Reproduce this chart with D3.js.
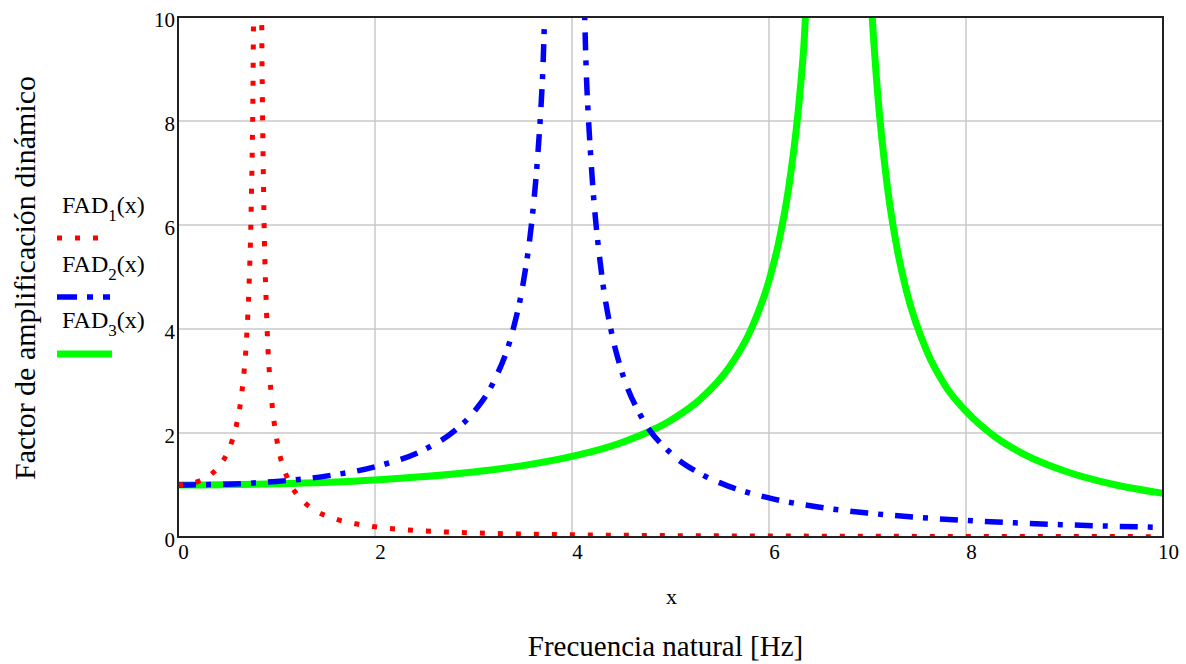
<!DOCTYPE html>
<html>
<head>
<meta charset="utf-8">
<script src="https://cdn.jsdelivr.net/npm/d3@7"></script>
<style>
	body { margin: 0; background: #fff; }
	text { font-family: "Liberation Serif", "Times New Roman", serif; fill: #000; }
</style>
</head>
<body>
<div id="chart"></div>
<script>
// values
const xTicks = [0, 2, 4, 6, 8, 10];
const yTicks = [0, 2, 4, 6, 8, 10];

const fad1X = [0, 0.1, 0.2, 0.3, 0.4, 0.5, 0.55, 0.6, 0.65, 0.7, 0.72, 0.74, 0.76, 0.77,
	0.845, 0.85, 0.87, 0.9, 0.95, 1.0, 1.1, 1.2, 1.3, 1.4, 1.6, 1.8, 2.0, 2.5, 3, 4, 5, 6, 7, 8, 10];
const fad1Y = [1.0, 1.016, 1.065, 1.159, 1.323, 1.616, 1.856, 2.216, 2.809, 3.95, 4.765, 6.05, 8.36, 10.38,
	11.33, 9.88, 6.51, 4.26, 2.663, 1.908, 1.184, 0.837, 0.635, 0.503, 0.345, 0.254, 0.196, 0.117, 0.079, 0.043, 0.027, 0.019, 0.014, 0.010, 0.007];

const fad2X = [0, 0.5, 1, 1.5, 2, 2.5, 2.8, 3.0, 3.2, 3.4, 3.5, 3.6, 3.65, 3.7, 3.75,
	4.1, 4.15, 4.2, 4.3, 4.4, 4.5, 4.7, 5.0, 5.3, 5.6, 6, 6.5, 7, 7.5, 8, 8.5, 9, 9.5, 10];
const fad2Y = [1.0, 1.016, 1.069, 1.171, 1.35, 1.68, 2.031, 2.397, 2.968, 3.976, 4.833, 6.216, 7.278, 8.8, 11.17,
	11.31, 8.69, 7.04, 5.07, 3.945, 3.214, 2.325, 1.616, 1.221, 0.97, 0.751, 0.576, 0.46, 0.379, 0.318, 0.272, 0.236, 0.207, 0.183];

const fad3X = [0, 1, 2, 3, 3.5, 4, 4.5, 5, 5.3, 5.6, 5.8, 6.0, 6.1, 6.2, 6.3, 6.35, 6.4,
	7.0, 7.05, 7.1, 7.2, 7.3, 7.4, 7.6, 7.8, 8.0, 8.3, 8.6, 9.0, 9.5, 10];
const fad3Y = [1.0, 1.023, 1.097, 1.249, 1.372, 1.549, 1.813, 2.24, 2.646, 3.273, 3.92, 4.931, 5.68, 6.72, 8.26, 9.34, 10.76,
	11.75, 9.94, 8.6, 6.76, 5.55, 4.7, 3.583, 2.879, 2.42, 1.92, 1.58, 1.27, 1.01, 0.84];

const seriesNames = ["FAD", "FAD", "FAD"];
const seriesSubs = ["1", "2", "3"];
const seriesColors = ["#ff0000", "#0000ff", "#00ff00"];

const W = 1186, H = 664;
const margin = {top: 17, right: 23, bottom: 127, left: 178};
const width = W - margin.left - margin.right,
	height = H - margin.top - margin.bottom;

const svg = d3.select("#chart").append("svg")
	.attr("width", W)
	.attr("height", H);

const g = svg.append("g")
	.attr("transform", "translate(" + margin.left + "," + margin.top + ")");

const xScale = d3.scaleLinear().domain([0, 10]).range([0, width]);
const yScale = d3.scaleLinear().domain([0, 10]).range([height, 0]);

// grid
g.append("g")
	.selectAll("line")
	.data(xTicks.slice(1, -1))
	.enter().append("line")
	.attr("x1", d => xScale(d)).attr("x2", d => xScale(d))
	.attr("y1", 0).attr("y2", height)
	.attr("stroke", "#c8c8c8").attr("stroke-width", 1.5);

g.append("g")
	.selectAll("line")
	.data(yTicks.slice(1, -1))
	.enter().append("line")
	.attr("y1", d => yScale(d)).attr("y2", d => yScale(d))
	.attr("x1", 0).attr("x2", width)
	.attr("stroke", "#c8c8c8").attr("stroke-width", 1.5);

// axes (labels only, Mathcad style)
const xAxis = g.append("g")
	.attr("transform", "translate(0," + height + ")")
	.call(d3.axisBottom(xScale).tickValues(xTicks).tickSize(0).tickPadding(0));
xAxis.select(".domain").remove();
xAxis.selectAll("text")
	.attr("dx", 5).attr("dy", "1.05em")
	.style("font-size", "21px").style("font-family", "Liberation Serif");

const yAxis = g.append("g")
	.call(d3.axisLeft(yScale).tickValues(yTicks).tickSize(0).tickPadding(3));
yAxis.select(".domain").remove();
yAxis.selectAll("text")
	.attr("dy", "0.45em")
	.style("font-size", "21px").style("font-family", "Liberation Serif");

// clip
g.append("clipPath").attr("id", "clip")
	.append("rect").attr("width", width).attr("height", height);

const line = d3.line()
	.x(d => xScale(d[0]))
	.y(d => yScale(d[1]))
	.curve(d3.curveMonotoneX);

const plot = g.append("g").attr("clip-path", "url(#clip)");

plot.append("path")
	.datum(d3.zip(fad3X, fad3Y))
	.attr("d", line)
	.attr("fill", "none")
	.attr("stroke", seriesColors[2])
	.attr("stroke-width", 7);

plot.append("path")
	.datum(d3.zip(fad2X, fad2Y))
	.attr("d", line)
	.attr("fill", "none")
	.attr("stroke", seriesColors[1])
	.attr("stroke-width", 5.5)
	.attr("stroke-dasharray", "18 10 5 12");

plot.append("path")
	.datum(d3.zip(fad1X, fad1Y))
	.attr("d", line)
	.attr("fill", "none")
	.attr("stroke", seriesColors[0])
	.attr("stroke-width", 5)
	.attr("stroke-dasharray", "5 13");

// frame
g.append("rect")
	.attr("width", width).attr("height", height)
	.attr("fill", "none")
	.attr("stroke", "#222").attr("stroke-width", 2);

// legend
const dashes = [["5 13", 5], ["20 10 6 10", 5.5], [null, 7]];
const legend = svg.append("g");
const legendTextY = [213, 272, 328];
const legendLineY = [238, 297, 354];
seriesNames.forEach((name, i) => {
	const t = legend.append("text")
		.attr("x", 62).attr("y", legendTextY[i])
		.style("font-size", "24px");
	t.append("tspan").text(name);
	t.append("tspan").attr("dy", 8).style("font-size", "17px").text(seriesSubs[i]);
	t.append("tspan").attr("dy", -8).text("(x)");
	legend.append("line")
		.attr("x1", 57).attr("x2", i === 0 ? 101 : (i === 1 ? 110 : 112))
		.attr("y1", legendLineY[i]).attr("y2", legendLineY[i])
		.attr("stroke", seriesColors[i])
		.attr("stroke-width", dashes[i][1])
		.attr("stroke-dasharray", dashes[i][0]);
});

// axis titles
svg.append("text")
	.attr("x", margin.left + width / 2 + 1)
	.attr("y", 604)
	.attr("text-anchor", "middle")
	.style("font-size", "22px")
	.text("x");

svg.append("text")
	.attr("x", margin.left + width / 2 - 5)
	.attr("y", 656)
	.attr("text-anchor", "middle")
	.style("font-size", "29px")
	.text("Frecuencia natural [Hz]");

svg.append("text")
	.attr("transform", "translate(35," + 278 + ") rotate(-90)")
	.attr("text-anchor", "middle")
	.style("font-size", "30px")
	.text("Factor de amplificación dinámico");
</script>
</body>
</html>
